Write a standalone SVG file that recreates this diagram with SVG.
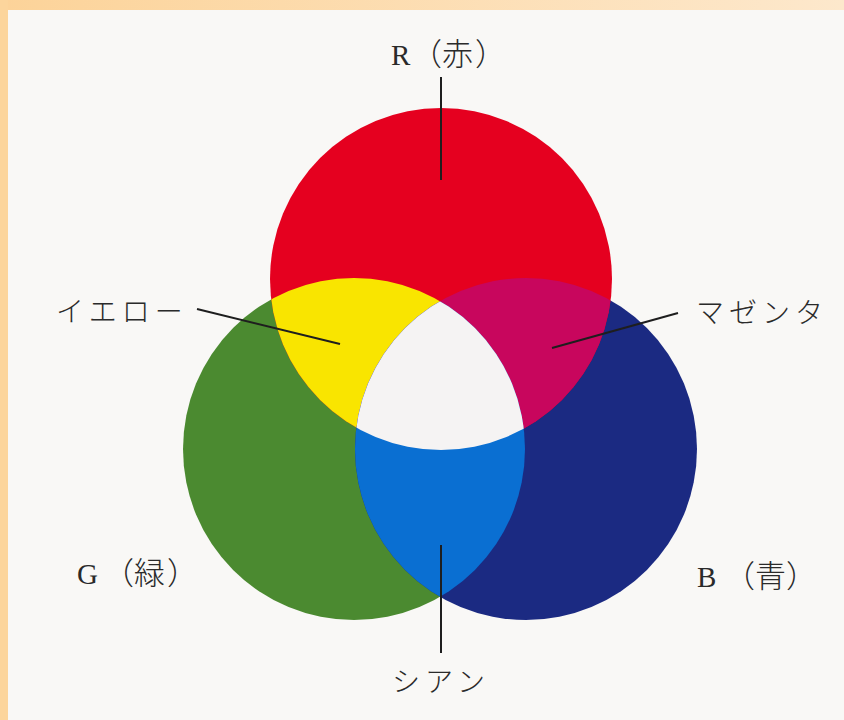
<svg xmlns="http://www.w3.org/2000/svg" width="844" height="720" viewBox="0 0 844 720">
<defs>
<linearGradient id="topBand" x1="0" y1="0" x2="1" y2="0">
<stop offset="0" stop-color="#fcd399"/>
<stop offset="1" stop-color="#fde8cc"/>
</linearGradient>
<clipPath id="cR"><circle cx="441" cy="279" r="171"/></clipPath>
<clipPath id="cG"><circle cx="354" cy="449" r="171"/></clipPath>
<clipPath id="cB"><circle cx="526" cy="449" r="171"/></clipPath>
<style>
.lbl{font-family:"Liberation Serif","Noto Sans CJK JP",serif;font-size:29px;fill:#2a2a2a}
.cjk{font-family:"Noto Sans CJK JP",sans-serif;font-size:31px;font-weight:300}
.kana{font-family:"Noto Sans CJK JP","Liberation Sans",sans-serif;font-size:28px;font-weight:300;letter-spacing:5px;fill:#2a2a2a}
.conn{stroke:#1e1e1e;stroke-width:2;fill:none}
</style>
</defs>
<rect x="0" y="0" width="844" height="720" fill="#f9f8f6"/>
<rect x="0" y="0" width="844" height="10" fill="url(#topBand)"/>
<rect x="0" y="0" width="8" height="720" fill="#fcd59c"/>

<g id="green"><circle cx="354" cy="449" r="171" fill="#4b8a30"/></g>
<g id="blue"><circle cx="526" cy="449" r="171" fill="#1b2a82"/></g>
<g id="red"><circle cx="441" cy="279" r="171" fill="#e5001f"/></g>
<g id="yellow" clip-path="url(#cG)"><circle cx="441" cy="279" r="171" fill="#f9e500"/></g>
<g id="magenta" clip-path="url(#cB)"><circle cx="441" cy="279" r="171" fill="#c8065d"/></g>
<g id="cyan" clip-path="url(#cB)"><circle cx="354" cy="449" r="171" fill="#0a6fd2"/></g>
<g id="white" clip-path="url(#cR)"><g clip-path="url(#cG)"><circle cx="526" cy="449" r="171" fill="#f5f3f3"/></g></g>

<g id="connectors">
<line class="conn" x1="441" y1="77" x2="441" y2="180"/>
<line class="conn" x1="197" y1="309" x2="340" y2="344"/>
<line class="conn" x1="678" y1="313" x2="552" y2="348"/>
<line class="conn" x1="441" y1="545" x2="441" y2="653"/>
</g>

<g id="label-R"><text class="lbl" y="65"><tspan x="391">R</tspan><tspan class="cjk" x="411">（</tspan><tspan class="cjk" x="442">赤</tspan><tspan class="cjk" x="475">）</tspan></text></g>
<g id="label-G"><text class="lbl" y="584"><tspan x="77">G</tspan><tspan class="cjk" x="103">（</tspan><tspan class="cjk" x="134">緑</tspan><tspan class="cjk" x="167">）</tspan></text></g>
<g id="label-B"><text class="lbl" y="587"><tspan x="697">B</tspan><tspan class="cjk" x="724">（</tspan><tspan class="cjk" x="755">青</tspan><tspan class="cjk" x="786">）</tspan></text></g>
<g id="label-yellow"><text class="kana" x="56" y="322">イエロー</text></g>
<g id="label-magenta"><text class="kana" x="696" y="323">マゼンタ</text></g>
<g id="label-cyan"><text class="kana" x="392" y="692">シアン</text></g>
</svg>
